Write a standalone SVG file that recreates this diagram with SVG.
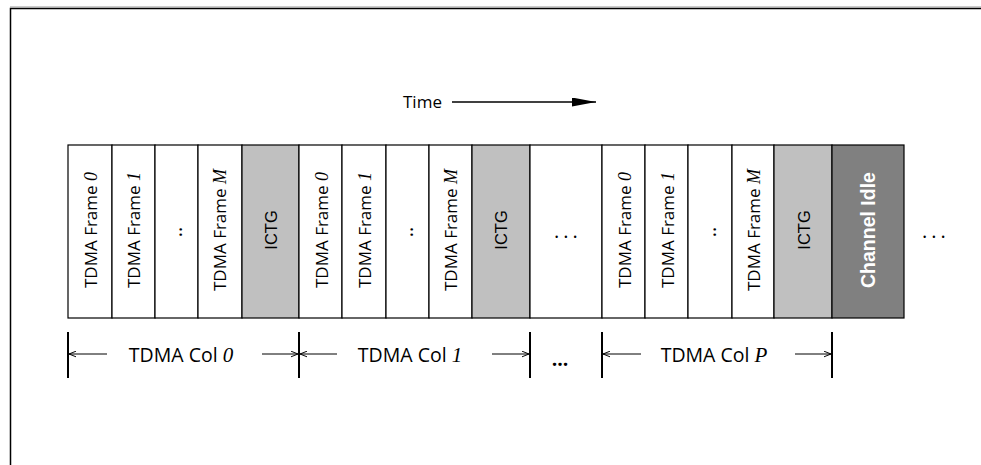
<svg xmlns="http://www.w3.org/2000/svg" width="981" height="465" viewBox="0 0 981 465">
<defs>
<style>
.bx{stroke:#000;stroke-width:1.2}
.w{fill:#fff}
.g{fill:#c0c0c0}
.dg{fill:#808080}
.ft{font-family:"Open Sans","Liberation Sans",sans-serif;font-size:17px;fill:#000}
.it{font-family:"Liberation Serif",serif;font-style:italic;font-size:18px}
.dt{font-family:"Open Sans","Liberation Sans",sans-serif;font-size:20px;fill:#000}
.ic{font-family:"Liberation Sans",sans-serif;font-size:16.5px;fill:#000}
.ci{font-family:"Liberation Sans",sans-serif;font-size:19.5px;font-weight:bold;fill:#fff}
.lb{font-family:"Open Sans","Liberation Sans",sans-serif;font-size:19.5px;fill:#000}
.lb .it{font-size:21px}
.dim{stroke:#000;stroke-width:1;fill:none}
.bar{stroke:#000;stroke-width:2}
</style>
<marker id="oa" viewBox="0 0 10 10" refX="10" refY="5" markerWidth="7" markerHeight="7" markerUnits="userSpaceOnUse" orient="auto"><path d="M0,1 L10,5 L0,9" fill="none" stroke="#000" stroke-width="1.4"/></marker>
<marker id="fa" viewBox="0 0 10 10" refX="10" refY="5" markerWidth="24" markerHeight="9" markerUnits="userSpaceOnUse" orient="auto" preserveAspectRatio="none"><path d="M0,0 L10,5 L0,10 Z" fill="#000"/></marker>
</defs>
<rect width="981" height="465" fill="#fff"/>
<g id="frame">
<path d="M10.5,465 V8.5 H981" fill="none" stroke="#000" stroke-width="1.5"/>
<line x1="10" y1="7" x2="981" y2="7" stroke="#999" stroke-width="1"/>
</g>
<g id="time">
<text x="403" y="108" class="ft">Time</text>
</g>
<g id="connectors">
<line x1="452" y1="102" x2="596" y2="102" stroke="#000" stroke-width="1.5" marker-end="url(#fa)"/>
<line x1="107" y1="354" x2="69" y2="354" class="dim" marker-end="url(#oa)"/>
<line x1="262" y1="354" x2="298" y2="354" class="dim" marker-end="url(#oa)"/>
<line x1="337" y1="354" x2="300" y2="354" class="dim" marker-end="url(#oa)"/>
<line x1="492" y1="354" x2="529" y2="354" class="dim" marker-end="url(#oa)"/>
<line x1="641" y1="354" x2="603" y2="354" class="dim" marker-end="url(#oa)"/>
<line x1="795" y1="354" x2="831" y2="354" class="dim" marker-end="url(#oa)"/>
<line x1="68" y1="332" x2="68" y2="378" class="bar"/>
<line x1="299" y1="332" x2="299" y2="378" class="bar"/>
<line x1="530" y1="332" x2="530" y2="378" class="bar"/>
<line x1="602" y1="332" x2="602" y2="378" class="bar"/>
<line x1="832" y1="332" x2="832" y2="378" class="bar"/>
</g>
<g id="col0">
<g id="c0f0"><rect x="68" y="145" width="44" height="173" class="bx w"/><text transform="translate(97,230) rotate(-90)" text-anchor="middle" class="ft">TDMA Frame <tspan class="it">0</tspan></text></g>
<g id="c0f1"><rect x="112" y="145" width="43" height="173" class="bx w"/><text transform="translate(140,230) rotate(-90)" text-anchor="middle" class="ft">TDMA Frame <tspan class="it">1</tspan></text></g>
<g id="c0d"><rect x="155" y="145" width="43" height="173" class="bx w"/><text transform="translate(182,232) rotate(-90)" text-anchor="middle" class="dt">..</text></g>
<g id="c0fm"><rect x="198" y="145" width="44" height="173" class="bx w"/><text transform="translate(226,230) rotate(-90)" text-anchor="middle" class="ft">TDMA Frame <tspan class="it">M</tspan></text></g>
<g id="c0ictg"><rect x="242" y="145" width="57" height="173" class="bx g"/><text transform="translate(277,230) rotate(-90)" text-anchor="middle" class="ic">ICTG</text></g>
</g>
<g id="col1">
<g id="c1f0"><rect x="299" y="145" width="43" height="173" class="bx w"/><text transform="translate(328,230) rotate(-90)" text-anchor="middle" class="ft">TDMA Frame <tspan class="it">0</tspan></text></g>
<g id="c1f1"><rect x="342" y="145" width="44" height="173" class="bx w"/><text transform="translate(371,230) rotate(-90)" text-anchor="middle" class="ft">TDMA Frame <tspan class="it">1</tspan></text></g>
<g id="c1d"><rect x="386" y="145" width="43" height="173" class="bx w"/><text transform="translate(413,232) rotate(-90)" text-anchor="middle" class="dt">..</text></g>
<g id="c1fm"><rect x="429" y="145" width="43" height="173" class="bx w"/><text transform="translate(457,230) rotate(-90)" text-anchor="middle" class="ft">TDMA Frame <tspan class="it">M</tspan></text></g>
<g id="c1ictg"><rect x="472" y="145" width="58" height="173" class="bx g"/><text transform="translate(507,230) rotate(-90)" text-anchor="middle" class="ic">ICTG</text></g>
</g>
<g id="gap"><rect x="530" y="145" width="72" height="173" class="bx w"/><text x="568" y="238" text-anchor="middle" class="dt" letter-spacing="4">...</text></g>
<g id="colP">
<g id="cpf0"><rect x="602" y="145" width="43" height="173" class="bx w"/><text transform="translate(631,230) rotate(-90)" text-anchor="middle" class="ft">TDMA Frame <tspan class="it">0</tspan></text></g>
<g id="cpf1"><rect x="645" y="145" width="43" height="173" class="bx w"/><text transform="translate(674,230) rotate(-90)" text-anchor="middle" class="ft">TDMA Frame <tspan class="it">1</tspan></text></g>
<g id="cpd"><rect x="688" y="145" width="44" height="173" class="bx w"/><text transform="translate(716,232) rotate(-90)" text-anchor="middle" class="dt">..</text></g>
<g id="cpfm"><rect x="732" y="145" width="42" height="173" class="bx w"/><text transform="translate(760,230) rotate(-90)" text-anchor="middle" class="ft">TDMA Frame <tspan class="it">M</tspan></text></g>
<g id="cpictg"><rect x="774" y="145" width="58" height="173" class="bx g"/><text transform="translate(810,230) rotate(-90)" text-anchor="middle" class="ic">ICTG</text></g>
</g>
<g id="idle"><rect x="832" y="145" width="72" height="173" class="bx dg"/><text transform="translate(875,230) rotate(-90)" text-anchor="middle" class="ci">Channel Idle</text></g>
<g id="more"><text x="936" y="238" text-anchor="middle" class="dt" letter-spacing="4">...</text></g>
<g id="labels">
<text x="181" y="362" text-anchor="middle" class="lb">TDMA Col <tspan class="it">0</tspan></text>
<text x="410" y="362" text-anchor="middle" class="lb">TDMA Col <tspan class="it">1</tspan></text>
<text x="560" y="366" text-anchor="middle" class="lb" font-weight="bold">...</text>
<text x="714" y="362" text-anchor="middle" class="lb">TDMA Col <tspan class="it">P</tspan></text>
</g>
</svg>
